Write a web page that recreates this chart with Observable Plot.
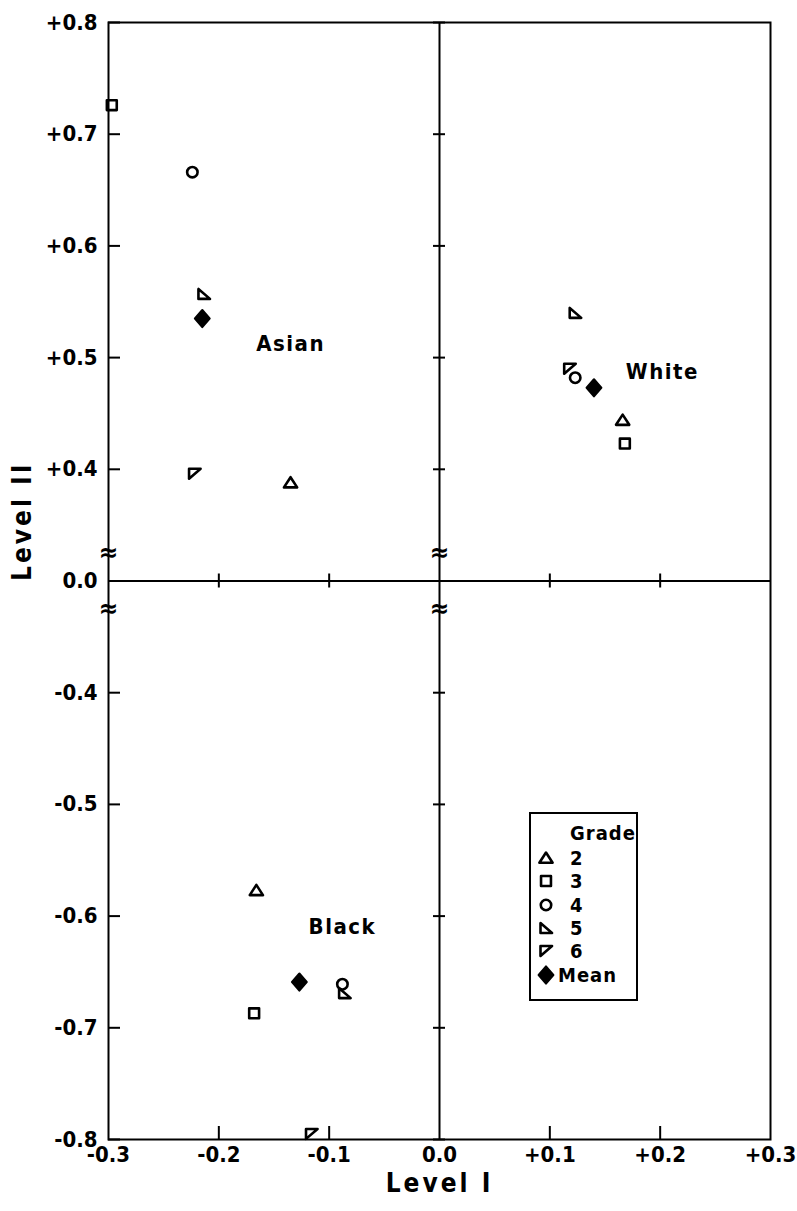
<!DOCTYPE html>
<html><head><meta charset="utf-8">
<script src="https://cdn.jsdelivr.net/npm/d3@7"></script>
<script src="https://cdn.jsdelivr.net/npm/@observablehq/plot@0.6"></script>
<style>
body{margin:0;background:#fff}
#wrap{position:relative;width:797px;height:1211px;font-family:"DejaVu Sans",sans-serif;color:#000}
#wrap svg text{font-stretch:condensed}
#legend{position:absolute;left:529px;top:812px;width:105px;height:185px;border:2px solid #000;background:#fff}
#legend .t{position:absolute;font-weight:bold;font-size:20px;font-stretch:condensed;letter-spacing:1px;line-height:22px}
#legend svg{position:absolute}
</style>
</head><body><div id="wrap"></div>
<script>
// ---- data ----
const groups = ["Asian", "White", "Black"];
const grades = ["2", "3", "4", "5", "6", "Mean"];
// values per grade in order 2,3,4,5,6,Mean
const asianX = [-0.135, -0.297, -0.224, -0.2135, -0.222, -0.215];
const asianY = [0.388, 0.726, 0.666, 0.557, 0.396, 0.535];
const whiteX = [0.166, 0.168, 0.123, 0.123, 0.118, 0.140];
const whiteY = [0.444, 0.423, 0.482, 0.540, 0.490, 0.473];
const blackX = [-0.166, -0.168, -0.088, -0.086, -0.116, -0.127];
const blackY = [-0.577, -0.687, -0.661, -0.669, -0.795, -0.659];
const groupLabelX = [-0.135, 0.202, -0.088];
const groupLabelY = [0.512, 0.487, -0.610];
const xTicks = [-0.3, -0.2, -0.1, 0, 0.1, 0.2, 0.3];
const xTickLabels = ["-0.3", "-0.2", "-0.1", "0.0", "+0.1", "+0.2", "+0.3"];
const yTicks = [0.8, 0.7, 0.6, 0.5, 0.4, 0.0, -0.4, -0.5, -0.6, -0.7, -0.8];
const yTickLabels = ["+0.8", "+0.7", "+0.6", "+0.5", "+0.4", "0.0", "-0.4", "-0.5", "-0.6", "-0.7", "-0.8"];
const breakMarks = [0.325, -0.325];
const breakAxesX = [-0.3, 0];

// axis break: 0..0.3 and -0.3..0 collapsed
const brk = v => v > 0 ? v - 0.3 : v < 0 ? v + 0.3 : 0;

const xs = [asianX, whiteX, blackX], ys = [asianY, whiteY, blackY];
const points = groups.flatMap((g, gi) => grades.map((gr, k) => ({group: g, grade: gr, x: xs[gi][k], y: ys[gi][k]})));
const labels = groups.map((g, i) => ({text: g, x: groupLabelX[i], y: groupLabelY[i]}));

// custom symbols
const sym = f => ({draw(c, size) { const r = Math.sqrt(size / Math.PI); f(c, r); }});
const symbols = [
  sym((c, r) => { c.moveTo(0, -r); c.lineTo(1.2 * r, 0.85 * r); c.lineTo(-1.2 * r, 0.85 * r); c.closePath(); }),
  sym((c, r) => { c.rect(-0.9 * r, -0.9 * r, 1.8 * r, 1.8 * r); }),
  sym((c, r) => { c.moveTo(0.95 * r, 0); c.arc(0, 0, 0.95 * r, 0, 2 * Math.PI); }),
  sym((c, r) => { c.moveTo(-r, -0.9 * r); c.lineTo(-r, 0.9 * r); c.lineTo(1.1 * r, 0.9 * r); c.closePath(); }),
  sym((c, r) => { c.moveTo(-r, -0.9 * r); c.lineTo(1.1 * r, -0.9 * r); c.lineTo(-r, 0.9 * r); c.closePath(); }),
  sym((c, r) => { c.moveTo(0, -1.5 * r); c.lineTo(1.3 * r, 0); c.lineTo(0, 1.5 * r); c.lineTo(-1.3 * r, 0); c.closePath(); })
];

const innerY = yTicks.filter(v => v !== 0);
const innerX = xTicks.filter(v => Math.abs(v) > 0 && Math.abs(v) < 0.3);
const font = "DejaVu Sans";

const chart = Plot.plot({
  width: 797, height: 1211,
  marginLeft: 108, marginRight: 27, marginTop: 22, marginBottom: 72,
  x: {domain: [-0.3, 0.3], axis: null},
  y: {domain: [-0.5, 0.5], axis: null},
  style: {fontFamily: font, background: "white", color: "black"},
  marks: [
    Plot.frame({stroke: "black", strokeWidth: 2}),
    Plot.ruleX([0], {stroke: "black", strokeWidth: 2}),
    Plot.ruleY([0], {stroke: "black", strokeWidth: 2}),
    // left inward ticks
    Plot.ruleY(innerY, {y: d => brk(d), x1: -0.3, x2: -0.3, insetRight: -12, stroke: "black", strokeWidth: 2}),
    // crossing ticks on vertical zero line
    Plot.ruleY(innerY, {y: d => brk(d), x1: 0, x2: 0, insetLeft: -6, insetRight: -6, stroke: "black", strokeWidth: 2}),
    // crossing ticks on horizontal zero line
    Plot.ruleX(innerX, {x: d => d, y1: 0, y2: 0, insetTop: -7, insetBottom: -7, stroke: "black", strokeWidth: 2}),
    // bottom inward ticks
    Plot.ruleX(innerX, {x: d => d, y1: -0.5, y2: -0.5, insetBottom: 13, stroke: "black", strokeWidth: 2}),
    // break marks
    ...breakAxesX.map(bx => Plot.text(breakMarks, {x: bx, y: d => brk(d), text: () => "≈", fontSize: 26, fontWeight: "bold", fill: "black"})),
    // tick labels
    Plot.text(yTicks, {y: d => brk(d), text: (d, i) => yTickLabels[i], frameAnchor: "left", textAnchor: "end", dx: -11, fontSize: 22, fontWeight: "bold", fill: "black"}),
    Plot.text(xTicks, {x: d => d, text: (d, i) => xTickLabels[i], frameAnchor: "bottom", dy: 22, fontSize: 22, fontWeight: "bold", fill: "black"}),
    // axis titles
    Plot.text(["Level I"], {frameAnchor: "bottom", dy: 52, fontSize: 26, fontWeight: "bold", fill: "black"}),
    Plot.text(["Level II"], {frameAnchor: "left", dx: -86, rotate: -90, fontSize: 26, fontWeight: "bold", fill: "black"}),
    // group labels
    Plot.text(labels, {x: "x", y: d => brk(d.y), text: "text", fontSize: 22, fontWeight: "bold", fill: "black"}),
    // points
    ...grades.map((gr, k) => Plot.dot(points.filter(d => d.grade === gr), {
      x: "x", y: d => brk(d.y), symbol: symbols[k], r: 5.5,
      stroke: "black", strokeWidth: 2.6, strokeLinejoin: "round",
      fill: gr === "Mean" ? "black" : "none"
    }))
  ]
});
chart.querySelectorAll("text").forEach(t => {
  if (/^Level/.test(t.textContent)) t.style.letterSpacing = "3px";
  else if (/^[A-Z][a-z]/.test(t.textContent)) t.style.letterSpacing = "1.5px";
});
const wrap = document.getElementById("wrap");
wrap.appendChild(chart);

// legend
const legend = document.createElement("div");
legend.id = "legend";
legend.innerHTML = `<div class="t" style="left:39px;top:8px">Grade</div>`;
grades.forEach((gr, k) => {
  const cy = 44 + k * 23.3;
  const p = d3.path();
  symbols[k].draw(p, Math.PI * 5.5 * 5.5);
  const s = document.createElementNS("http://www.w3.org/2000/svg", "svg");
  s.setAttribute("width", 24); s.setAttribute("height", 24);
  s.style.left = (15 - 12) + "px"; s.style.top = (cy - 12) + "px";
  s.innerHTML = `<path transform="translate(12,12)" d="${p}" stroke="black" stroke-width="2.6" stroke-linejoin="round" fill="${gr === "Mean" ? "black" : "none"}"/>`;
  legend.appendChild(s);
  const t = document.createElement("div");
  t.className = "t";
  t.textContent = gr;
  if (gr === "Mean") { t.style.left = "27px"; t.style.letterSpacing = "1px"; }
  else { t.style.left = "39px"; }
  t.style.top = (cy - 11) + "px";
  legend.appendChild(t);
});
wrap.appendChild(legend);
</script>
</body></html>
